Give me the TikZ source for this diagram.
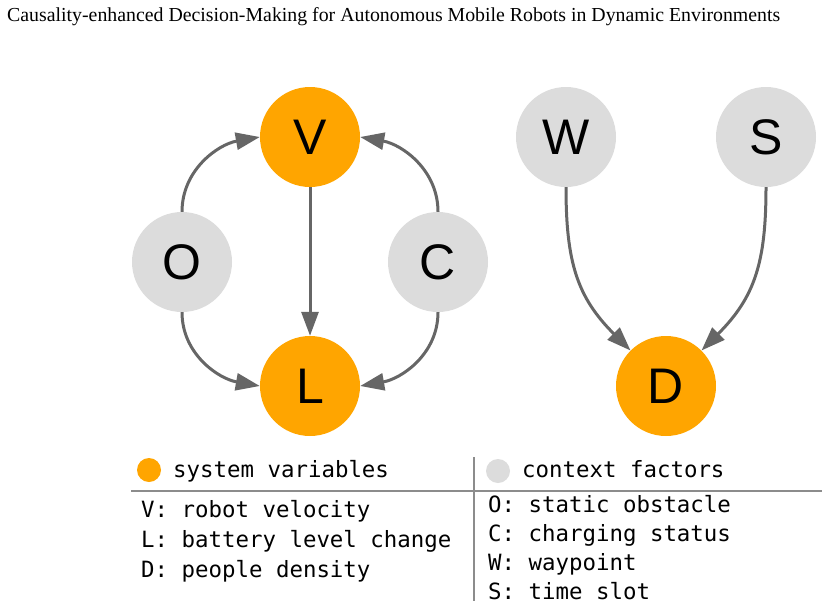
\documentclass[tikz,border=0pt]{standalone}
\usepackage{fontspec}
\setmainfont{Liberation Serif}
\newfontfamily\nodefont{Liberation Sans}
\newfontfamily\monofont{DejaVu Sans Mono}
\usetikzlibrary{arrows.meta}
\definecolor{sysorange}{HTML}{FFA500}
\definecolor{ctxgray}{HTML}{DCDCDC}
\definecolor{edgegray}{HTML}{666666}
\definecolor{rulegray}{HTML}{8C8C8C}
\tikzset{
  var/.style={circle, minimum size=100pt, inner sep=0pt, font=\nodefont\fontsize{50}{50}\selectfont},
  sysvar/.style={var, fill=sysorange},
  ctxvar/.style={var, fill=ctxgray},
  arr/.style={draw=edgegray, line width=3pt, -{Triangle[length=24pt,width=17pt]}},
  legtext/.style={anchor=base west, inner sep=0pt, font=\monofont\fontsize{22.4}{26}\selectfont},
  legdot/.style={circle, minimum size=24pt, inner sep=0pt},
  rule/.style={draw=rulegray, line width=1.5pt}
}
\begin{document}
\begin{tikzpicture}[x=1pt,y=-1pt]
\useasboundingbox (0,0) rectangle (822,608);
% title
\node[anchor=base west, inner sep=0pt] (title) at (7,21)
  {\resizebox{773pt}{!}{\fontsize{20}{24}\selectfont Causality-enhanced Decision-Making for Autonomous Mobile Robots in Dynamic Environments}};
% nodes
\node[sysvar] (V) at (310,137) {V};
\node[sysvar] (L) at (310,386) {L};
\node[ctxvar] (O) at (182,262) {O};
\node[ctxvar] (C) at (438,262) {C};
\node[ctxvar] (W) at (566,137) {W};
\node[ctxvar] (S) at (766,137) {S};
\node[sysvar] (D) at (666,386) {D};
% edges
\draw[arr] (O.north) to[out=90,in=190] (V.west);
\draw[arr] (O.south) to[out=-90,in=170] (L.west);
\draw[arr] (C.north) to[out=90,in=-10] (V.east);
\draw[arr] (C.south) to[out=-90,in=10] (L.east);
\draw[arr] (V.south) -- (L.north);
\draw[arr] (W.south) to[out=-90,in=135,looseness=1.1] (D.135);
\draw[arr] (S.south) to[out=-90,in=45,looseness=1.1] (D.45);
% legend
\coordinate (hl) at (131,491);
\coordinate (hr) at (822,491);
\coordinate (vt) at (474,457);
\coordinate (vb) at (474,601);
\draw[rule] (hl) -- (hr);
\draw[rule] (vt) -- (vb);
\node[legdot, fill=sysorange] (dotsys) at (149,470) {};
\node[legtext] (tsys) at (173,477) {system variables};
\node[legdot, fill=ctxgray] (dotctx) at (498,471) {};
\node[legtext] (tctx) at (522,477) {context factors};
\node[legtext] (lv) at (141,517) {V: robot velocity};
\node[legtext] (ll) at (141,547) {L: battery level change};
\node[legtext] (ld) at (141,577) {D: people density};
\node[legtext] (lo) at (488,512) {O: static obstacle};
\node[legtext] (lc) at (488,541) {C: charging status};
\node[legtext] (lw) at (488,570) {W: waypoint};
\node[legtext] (ls) at (488,599) {S: time slot};
\end{tikzpicture}
\end{document}
